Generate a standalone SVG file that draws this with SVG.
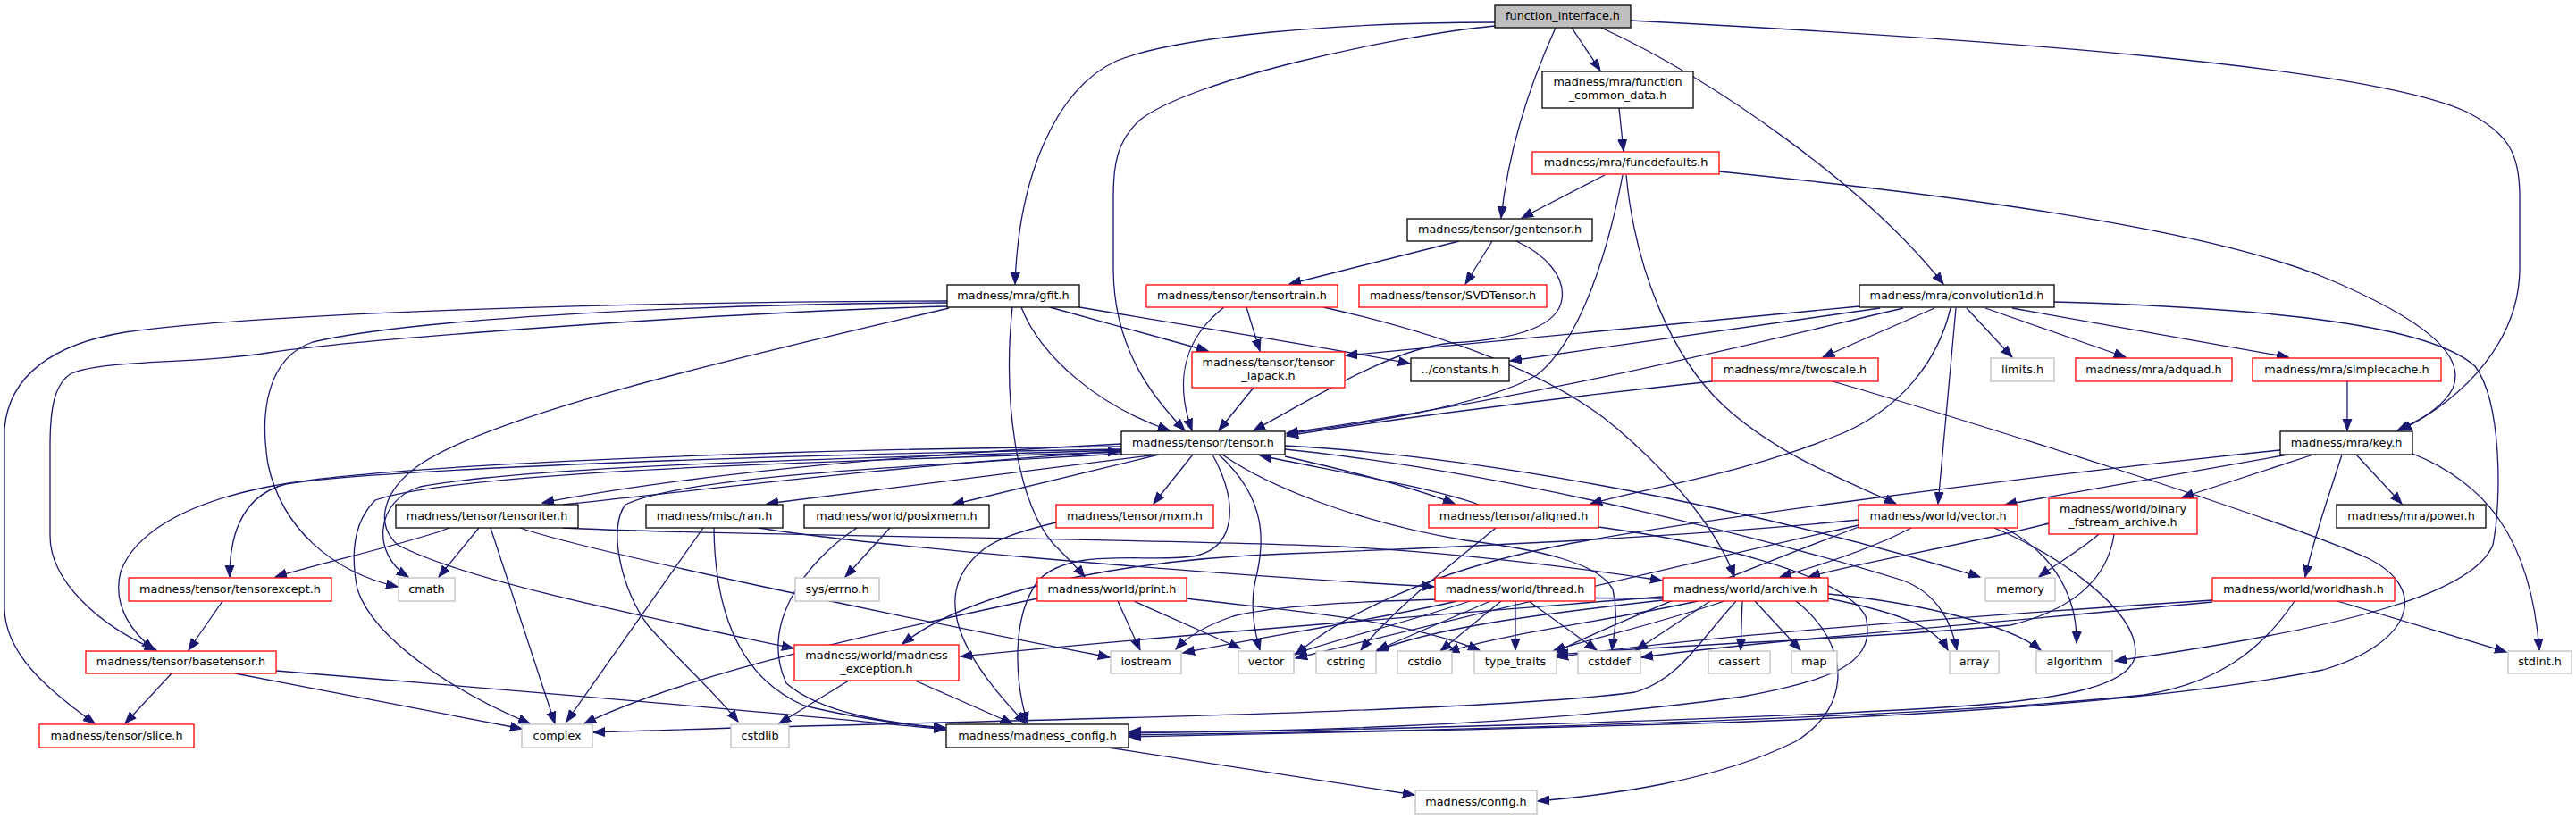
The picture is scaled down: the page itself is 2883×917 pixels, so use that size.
<svg xmlns="http://www.w3.org/2000/svg" width="2883" height="917" viewBox="0 0 2883 917">
<style>
.n rect{fill:#fff;stroke-width:1.3}
.b rect{stroke:#000}
.r rect{stroke:#ff0000}
.g rect{stroke:#bfbfbf}
.n text{font-family:"DejaVu Sans","Liberation Sans",sans-serif;font-size:12.8px;text-anchor:middle;fill:#000}
#edges path{fill:none;stroke:#191970;stroke-width:1.3;marker-end:url(#a)}
</style>
<defs>
<marker id="a" markerWidth="15" markerHeight="12" refX="13" refY="5.5" orient="auto" markerUnits="userSpaceOnUse">
<path d="M0,0.5 L13,5.5 L0,10.5 z" fill="#191970" stroke="#191970" stroke-width="1"/>
</marker>
</defs>
<rect width="2883" height="917" fill="#fff"/>
<g id="edges">
<path d="M1759,31 L1791,79"/>
<path d="M1741,31 C1712,95 1688,170 1680,244"/>
<path d="M1673,25 C1500,25 1320,40 1250,68 C1180,100 1140,200 1136,318"/>
<path d="M1673,29 C1560,40 1330,90 1275,135 C1250,158 1246,185 1246,220 L1246,300 C1246,390 1290,445 1326,482"/>
<path d="M1792,31 C1920,90 2090,210 2175,318"/>
<path d="M1825,23 C2250,45 2650,75 2760,125 C2810,150 2820,175 2820,220 L2820,300 C2820,380 2760,445 2686,482"/>
<path d="M1812,121 L1817,169"/>
<path d="M1796,196 L1703,244"/>
<path d="M1816,196 C1800,280 1770,380 1720,420 C1660,455 1520,475 1440,486"/>
<path d="M1820,196 C1830,300 1870,400 1930,455 C1990,510 2070,540 2122,564"/>
<path d="M1924,192 C2150,215 2450,250 2600,310 C2720,360 2760,400 2745,435 C2735,455 2710,470 2683,482"/>
<path d="M1633,270 L1443,318"/>
<path d="M1670,270 L1640,318"/>
<path d="M1697,270 C1730,285 1752,310 1748,335 C1744,365 1700,380 1624,384 C1560,390 1480,440 1403,482"/>
<path d="M1395,344 L1410,393"/>
<path d="M1370,344 C1330,375 1312,420 1334,482"/>
<path d="M1481,344 C1620,375 1740,420 1810,480 C1880,540 1925,600 1941,646"/>
<path d="M1175,344 L1352,393"/>
<path d="M1208,344 C1350,368 1480,388 1578,407"/>
<path d="M1143,344 C1165,400 1230,455 1309,482"/>
<path d="M1133,344 C1122,450 1138,560 1178,608 C1195,625 1205,635 1214,646"/>
<path d="M1062,345 C850,395 560,460 470,520 C430,548 418,585 445,610 C520,650 720,690 888,726"/>
<path d="M1060,339 C800,340 470,355 350,383 C300,400 290,460 300,520 C315,590 370,640 445,657"/>
<path d="M1060,343 C800,350 400,380 300,395 C220,408 120,402 80,418 C60,430 56,460 56,500 L56,600 C56,650 110,700 175,728"/>
<path d="M1060,337 C700,338 300,350 140,372 C60,385 10,420 5,480 L5,680 C5,730 50,770 106,810"/>
<path d="M2081,343 L1506,398"/>
<path d="M2104,345 L1690,404"/>
<path d="M2130,345 C1980,380 1750,440 1440,485"/>
<path d="M2165,345 L2040,400"/>
<path d="M2183,345 C2170,400 2130,460 2050,490 C1950,530 1850,545 1780,564"/>
<path d="M2201,345 L2252,400"/>
<path d="M2222,345 L2379,400"/>
<path d="M2252,345 L2561,400"/>
<path d="M2189,345 L2169,564"/>
<path d="M2299,338 C2550,345 2720,365 2770,410 C2800,450 2800,560 2790,610 C2770,660 2650,700 2367,740"/>
<path d="M1916,427 C1700,450 1520,475 1440,488"/>
<path d="M2051,427 C2200,470 2550,580 2650,625 C2720,660 2700,720 2600,750 C2450,780 2200,800 1900,810 C1700,816 1400,823 1264,825"/>
<path d="M2627,427 L2627,482"/>
<path d="M2561,509 L2244,565"/>
<path d="M2589,509 L2442,557"/>
<path d="M2621,509 C2605,560 2590,600 2580,646"/>
<path d="M2637,509 L2688,564"/>
<path d="M2700,508 C2780,540 2832,600 2842,728"/>
<path d="M2552,504 C2200,540 1850,590 1740,612 C1600,640 1500,690 1450,733"/>
<path d="M1403,434 L1364,482"/>
<path d="M1295,509 L858,564"/>
<path d="M1297,509 L1066,565"/>
<path d="M1335,509 L1291,564"/>
<path d="M1357,509 C1385,560 1385,610 1340,622 C1290,632 1200,610 1162,650 C1132,690 1135,760 1150,810"/>
<path d="M1364,509 C1420,560 1415,610 1405,650 C1398,680 1405,710 1410,728"/>
<path d="M1368,509 C1420,545 1520,585 1640,605 C1720,615 1790,630 1805,660 C1812,690 1806,710 1804,728"/>
<path d="M1438,511 C1500,525 1580,545 1628,564"/>
<path d="M1655,565 C1600,545 1480,525 1410,510"/>
<path d="M1438,499 C1650,510 1950,565 2216,646"/>
<path d="M1438,503 C1700,530 2000,610 2130,650 C2170,665 2185,700 2190,728"/>
<path d="M1255,497 C1000,510 780,530 607,563"/>
<path d="M630,565 C800,547 1000,522 1253,505"/>
<path d="M1255,503 C900,508 420,525 320,542 C270,555 257,600 257,646"/>
<path d="M1255,500 C900,502 420,520 300,545 C200,565 150,600 135,640 C125,680 150,710 172,727"/>
<path d="M1255,504 C1000,512 600,520 470,545 C420,560 415,620 457,646"/>
<path d="M1255,506 C1000,515 520,525 420,560 C395,585 392,620 400,660 C420,720 520,780 593,810"/>
<path d="M1255,508 C1000,522 760,535 700,565 C680,590 695,660 725,700 C760,740 800,775 826,808"/>
<path d="M503,591 C470,605 360,630 308,646"/>
<path d="M536,591 L491,646"/>
<path d="M549,591 L621,810"/>
<path d="M582,591 C650,615 1000,690 1242,736"/>
<path d="M630,591 C800,600 1300,603 1500,612 C1650,620 1780,638 1860,650"/>
<path d="M787,591 L634,808"/>
<path d="M799,591 C800,690 830,760 900,790 C960,805 1020,812 1058,816"/>
<path d="M849,591 C950,608 1300,640 1605,657"/>
<path d="M959,591 C900,630 850,700 880,765 C920,800 1000,810 1058,815"/>
<path d="M996,591 L946,646"/>
<path d="M1182,585 C1140,595 1110,605 1095,620 C1050,660 1060,720 1148,810"/>
<path d="M192,754 L140,810"/>
<path d="M263,754 L584,816"/>
<path d="M309,751 C600,775 900,800 1058,817"/>
<path d="M249,673 L211,728"/>
<path d="M1251,673 L1276,728"/>
<path d="M1269,673 L1388,726"/>
<path d="M1161,670 C1000,705 780,750 654,810"/>
<path d="M1328,670 C1420,682 1560,690 1656,728"/>
<path d="M950,762 L872,810"/>
<path d="M1024,762 L1133,810"/>
<path d="M1630,673 C1560,690 1420,712 1324,731"/>
<path d="M1645,673 C1580,695 1500,715 1449,732"/>
<path d="M1668,673 L1541,728"/>
<path d="M1680,673 L1612,729"/>
<path d="M1696,673 L1696,728"/>
<path d="M1711,673 L1787,728"/>
<path d="M1861,668 C1650,685 1300,712 1075,735"/>
<path d="M2080,582 C1900,600 1650,612 1440,620 C1300,625 1100,650 1010,721"/>
<path d="M1861,670 C1650,668 1450,672 1380,690 C1350,700 1330,712 1316,727"/>
<path d="M1861,672 C1700,690 1600,705 1540,729"/>
<path d="M1900,673 C1800,695 1680,710 1620,730"/>
<path d="M1930,673 C1850,700 1780,715 1738,729"/>
<path d="M1914,673 L1831,728"/>
<path d="M1950,673 L1948,728"/>
<path d="M1964,673 L2015,728"/>
<path d="M1943,673 C1900,720 1880,760 1830,775 C1650,800 1000,808 664,820"/>
<path d="M2010,673 C2070,720 2075,790 2010,830 C1920,875 1800,890 1721,897"/>
<path d="M2046,670 C2120,685 2165,700 2180,728"/>
<path d="M2046,665 C2150,675 2250,700 2284,728"/>
<path d="M2139,591 C2100,612 2040,632 1992,646"/>
<path d="M2080,588 C1850,640 1600,700 1450,737"/>
<path d="M2080,590 C1950,640 1800,700 1740,731"/>
<path d="M2243,591 C2300,620 2325,670 2324,720"/>
<path d="M2232,591 C2300,620 2390,680 2390,730 C2390,770 2300,785 2160,793 C1900,808 1500,818 1264,821"/>
<path d="M2293,586 C2200,610 2080,630 2024,646"/>
<path d="M2349,598 C2330,615 2300,632 2282,646"/>
<path d="M2366,598 C2360,640 2330,680 2250,700 C2100,715 1900,720 1742,733"/>
<path d="M2476,672 C2200,690 1900,712 1742,736"/>
<path d="M2476,674 C2200,700 1950,720 1837,736"/>
<path d="M2568,673 C2530,730 2480,765 2400,778 C2200,800 1700,818 1264,823"/>
<path d="M2616,673 L2805,730"/>
<path d="M1674,591 C1640,620 1560,680 1523,728"/>
<path d="M1789,590 C1900,605 2060,640 2088,690 C2100,740 2060,760 1950,780 C1700,815 1400,820 1264,819"/>
<path d="M1240,837 L1583,890"/>
</g>
<g id="nodes">
<g id="n-function_interface" class="n b"><rect x="1673" y="6" width="152" height="25" style="fill:#bfbfbf"/><text x="1749" y="21.5">function_interface.h</text></g>
<g id="n-function_common_data" class="n b"><rect x="1726" y="80" width="169" height="41"/><text x="1810.5" y="96">madness/mra/function</text><text x="1810.5" y="111">_common_data.h</text></g>
<g id="n-funcdefaults" class="n r"><rect x="1715" y="170" width="209" height="25"/><text x="1819.5" y="185.5">madness/mra/funcdefaults.h</text></g>
<g id="n-gentensor" class="n b"><rect x="1575" y="245" width="207" height="25"/><text x="1678.5" y="260.5">madness/tensor/gentensor.h</text></g>
<g id="n-gfit" class="n b"><rect x="1060" y="319" width="148" height="25"/><text x="1134" y="334.5">madness/mra/gfit.h</text></g>
<g id="n-tensortrain" class="n r"><rect x="1283" y="319" width="214" height="25"/><text x="1390" y="334.5">madness/tensor/tensortrain.h</text></g>
<g id="n-SVDTensor" class="n r"><rect x="1521" y="319" width="210" height="25"/><text x="1626" y="334.5">madness/tensor/SVDTensor.h</text></g>
<g id="n-convolution1d" class="n b"><rect x="2081" y="319" width="218" height="25"/><text x="2190" y="334.5">madness/mra/convolution1d.h</text></g>
<g id="n-tensor_lapack" class="n r"><rect x="1334" y="394" width="171" height="40"/><text x="1419.5" y="410">madness/tensor/tensor</text><text x="1419.5" y="425">_lapack.h</text></g>
<g id="n-constants" class="n b"><rect x="1579" y="401" width="110" height="26"/><text x="1634" y="417.5">../constants.h</text></g>
<g id="n-twoscale" class="n r"><rect x="1916" y="401" width="186" height="26"/><text x="2009" y="417.5">madness/mra/twoscale.h</text></g>
<g id="n-limits" class="n g"><rect x="2228" y="401" width="71" height="26"/><text x="2263.5" y="417.5">limits.h</text></g>
<g id="n-adquad" class="n r"><rect x="2323" y="401" width="175" height="26"/><text x="2410.5" y="417.5">madness/mra/adquad.h</text></g>
<g id="n-simplecache" class="n r"><rect x="2521" y="401" width="211" height="26"/><text x="2626.5" y="417.5">madness/mra/simplecache.h</text></g>
<g id="n-tensor" class="n b"><rect x="1255" y="483" width="183" height="26"/><text x="1346.5" y="499.5">madness/tensor/tensor.h</text></g>
<g id="n-key" class="n b"><rect x="2552" y="483" width="148" height="26"/><text x="2626" y="499.5">madness/mra/key.h</text></g>
<g id="n-tensoriter" class="n b"><rect x="443" y="565" width="204" height="26"/><text x="545" y="581.5">madness/tensor/tensoriter.h</text></g>
<g id="n-ran" class="n b"><rect x="723" y="565" width="153" height="26"/><text x="799.5" y="581.5">madness/misc/ran.h</text></g>
<g id="n-posixmem" class="n b"><rect x="900" y="565" width="207" height="26"/><text x="1003.5" y="581.5">madness/world/posixmem.h</text></g>
<g id="n-mxm" class="n r"><rect x="1182" y="565" width="176" height="26"/><text x="1270" y="581.5">madness/tensor/mxm.h</text></g>
<g id="n-aligned" class="n r"><rect x="1599" y="565" width="190" height="26"/><text x="1694" y="581.5">madness/tensor/aligned.h</text></g>
<g id="n-world_vector" class="n r"><rect x="2080" y="565" width="178" height="26"/><text x="2169" y="581.5">madness/world/vector.h</text></g>
<g id="n-binary_fstream_archive" class="n r"><rect x="2293" y="558" width="166" height="40"/><text x="2376" y="574">madness/world/binary</text><text x="2376" y="589">_fstream_archive.h</text></g>
<g id="n-power" class="n b"><rect x="2615" y="565" width="167" height="26"/><text x="2698.5" y="581.5">madness/mra/power.h</text></g>
<g id="n-tensorexcept" class="n r"><rect x="144" y="647" width="227" height="26"/><text x="257.5" y="663.5">madness/tensor/tensorexcept.h</text></g>
<g id="n-cmath" class="n g"><rect x="446" y="647" width="63" height="26"/><text x="477.5" y="663.5">cmath</text></g>
<g id="n-errno" class="n g"><rect x="890" y="647" width="94" height="26"/><text x="937" y="663.5">sys/errno.h</text></g>
<g id="n-print" class="n r"><rect x="1161" y="647" width="167" height="26"/><text x="1244.5" y="663.5">madness/world/print.h</text></g>
<g id="n-thread" class="n r"><rect x="1606" y="647" width="179" height="26"/><text x="1695.5" y="663.5">madness/world/thread.h</text></g>
<g id="n-archive" class="n r"><rect x="1861" y="647" width="185" height="26"/><text x="1953.5" y="663.5">madness/world/archive.h</text></g>
<g id="n-memory" class="n g"><rect x="2222" y="647" width="78" height="26"/><text x="2261" y="663.5">memory</text></g>
<g id="n-worldhash" class="n r"><rect x="2476" y="647" width="204" height="26"/><text x="2578" y="663.5">madness/world/worldhash.h</text></g>
<g id="n-basetensor" class="n r"><rect x="96" y="729" width="213" height="25"/><text x="202.5" y="744.5">madness/tensor/basetensor.h</text></g>
<g id="n-madness_exception" class="n r"><rect x="889" y="722" width="184" height="40"/><text x="981" y="738">madness/world/madness</text><text x="981" y="753">_exception.h</text></g>
<g id="n-iostream" class="n g"><rect x="1243" y="729" width="79" height="25"/><text x="1282.5" y="744.5">iostream</text></g>
<g id="n-vector" class="n g"><rect x="1386" y="729" width="62" height="25"/><text x="1417" y="744.5">vector</text></g>
<g id="n-cstring" class="n g"><rect x="1473" y="729" width="67" height="25"/><text x="1506.5" y="744.5">cstring</text></g>
<g id="n-cstdio" class="n g"><rect x="1564" y="729" width="61" height="25"/><text x="1594.5" y="744.5">cstdio</text></g>
<g id="n-type_traits" class="n g"><rect x="1650" y="729" width="92" height="25"/><text x="1696" y="744.5">type_traits</text></g>
<g id="n-cstddef" class="n g"><rect x="1766" y="729" width="70" height="25"/><text x="1801" y="744.5">cstddef</text></g>
<g id="n-cassert" class="n g"><rect x="1912" y="729" width="69" height="25"/><text x="1946.5" y="744.5">cassert</text></g>
<g id="n-map" class="n g"><rect x="2005" y="729" width="51" height="25"/><text x="2030.5" y="744.5">map</text></g>
<g id="n-array" class="n g"><rect x="2182" y="729" width="55" height="25"/><text x="2209.5" y="744.5">array</text></g>
<g id="n-algorithm" class="n g"><rect x="2279" y="729" width="85" height="25"/><text x="2321.5" y="744.5">algorithm</text></g>
<g id="n-stdint" class="n g"><rect x="2807" y="729" width="71" height="25"/><text x="2842.5" y="744.5">stdint.h</text></g>
<g id="n-slice" class="n r"><rect x="44" y="811" width="173" height="26"/><text x="130.5" y="827.5">madness/tensor/slice.h</text></g>
<g id="n-complex" class="n g"><rect x="584" y="811" width="79" height="26"/><text x="623.5" y="827.5">complex</text></g>
<g id="n-cstdlib" class="n g"><rect x="818" y="811" width="65" height="26"/><text x="850.5" y="827.5">cstdlib</text></g>
<g id="n-madness_config" class="n b"><rect x="1059" y="811" width="204" height="26"/><text x="1161" y="827.5">madness/madness_config.h</text></g>
<g id="n-config" class="n g"><rect x="1584" y="885" width="136" height="26"/><text x="1652" y="901.5">madness/config.h</text></g>
</g>
</svg>
